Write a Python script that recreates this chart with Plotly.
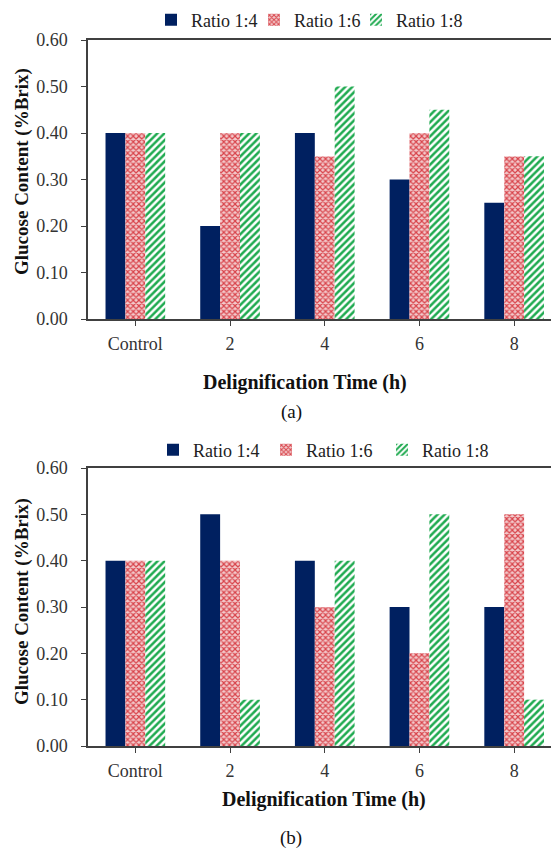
import plotly.graph_objects as go

# page is 559x861; the default 8px body margin surrounds the figure
PAGE_W, PAGE_H = 559, 861
OFF = 8
W, H = PAGE_W - 2 * OFF, PAGE_H - 2 * OFF

categories = ["Control", "2", "4", "6", "8"]
series_names = ["Ratio 1:4", "Ratio 1:6", "Ratio 1:8"]

# (a)
a_ratio_1_4 = [0.40, 0.20, 0.40, 0.30, 0.25]
a_ratio_1_6 = [0.40, 0.40, 0.35, 0.40, 0.35]
a_ratio_1_8 = [0.40, 0.40, 0.50, 0.45, 0.35]

# (b)
b_ratio_1_4 = [0.40, 0.50, 0.40, 0.30, 0.30]
b_ratio_1_6 = [0.40, 0.40, 0.30, 0.20, 0.50]
b_ratio_1_8 = [0.40, 0.10, 0.40, 0.50, 0.10]

y_ticks = [0.0, 0.1, 0.2, 0.3, 0.4, 0.5, 0.6]

SERIF = "Liberation Serif"
AX = "#404040"

def px_y(py):
    return 1 - (py - OFF) / H

def px_x(px):
    return (px - OFF) / W

styles = [
    dict(color="#002060", pattern=dict(shape="")),
    dict(color="white", pattern=dict(shape="x", fgcolor="#d8434a", bgcolor="#f3c9cb", size=4, solidity=0.5, fillmode="replace")),
    dict(color="white", pattern=dict(shape="/", fgcolor="#1faa50", bgcolor="white", size=5, solidity=0.5, fillmode="replace")),
]

# legend anchor positions (page px): left edge of each legend entry, and vertical centre
leg_x_top = [151, 254, 356]
leg_x_bot = [153, 266, 382]
leg_y_top = 20
leg_y_bot = 450

fig = go.Figure()

sets = [
    ("x", "y", [a_ratio_1_4, a_ratio_1_6, a_ratio_1_8], 1),
    ("x2", "y2", [b_ratio_1_4, b_ratio_1_6, b_ratio_1_8], 4),
]
for xa, ya, vals, lstart in sets:
    for i, (name, v, st) in enumerate(zip(series_names, vals, styles)):
        k = lstart + i
        lg = "legend" if k == 1 else f"legend{k}"
        fig.add_trace(go.Bar(
            x=categories, y=v, name=name, xaxis=xa, yaxis=ya, legend=lg,
            marker=dict(color=st["color"], pattern=st["pattern"], line=dict(width=0)),
        ))

AXIS_X = 88
SPACING = 94.7
x_dom = [px_x(AXIS_X), 1.0]
xrange = [-0.5, -0.5 + (PAGE_W - OFF - AXIS_X) / SPACING]

common_x = dict(
    type="category", range=xrange, showline=True, linecolor=AX, linewidth=1.5,
    mirror=True, ticks="outside", ticklen=5, tickcolor=AX, showgrid=False,
    ticklabelstandoff=3,
    tickfont=dict(family=SERIF, size=18, color="#333333"), domain=x_dom,
)
common_y = dict(
    range=[0, 0.6], tickvals=y_ticks, tickformat=".2f", showline=True, linecolor=AX,
    linewidth=1.5, ticks="outside", ticklen=5, tickcolor=AX, showgrid=False,
    ticklabelstandoff=10,
    zeroline=False, tickfont=dict(family=SERIF, size=18, color="#333333"),
)

legends = {}
for i, lx in enumerate(leg_x_top + leg_x_bot):
    k = i + 1
    key = "legend" if k == 1 else f"legend{k}"
    ly = leg_y_top if i < 3 else leg_y_bot
    legends[key] = dict(
        orientation="h", x=px_x(lx), xanchor="left", y=px_y(ly), yanchor="middle",
        font=dict(family=SERIF, size=18, color="#222222"), itemwidth=30,
        bgcolor="rgba(0,0,0,0)",
    )

fig.update_layout(
    width=W, height=H, margin=dict(l=0, r=0, t=0, b=0, autoexpand=False),
    paper_bgcolor="white", plot_bgcolor="white",
    barmode="group", bargap=0.37, bargroupgap=0,
    xaxis=dict(**common_x, anchor="y"),
    yaxis=dict(**common_y, domain=[px_y(319), px_y(40)], anchor="x"),
    xaxis2=dict(**common_x, anchor="y2"),
    yaxis2=dict(**common_y, domain=[px_y(746), px_y(468)], anchor="x2"),
    showlegend=True,
    **legends,
)

ann = []
ttl = dict(family=SERIF, size=20, color="#111111")
ann.append(dict(text="<b>Delignification Time (h)</b>", x=px_x(305), y=px_y(382), xref="paper", yref="paper",
                showarrow=False, font=ttl, xanchor="center", yanchor="middle"))
ann.append(dict(text="<b>Delignification Time (h)</b>", x=px_x(324), y=px_y(799), xref="paper", yref="paper",
                showarrow=False, font=ttl, xanchor="center", yanchor="middle"))
ann.append(dict(text="<b>Glucose Content (%Brix)</b>", x=px_x(22), y=px_y(172), xref="paper", yref="paper",
                showarrow=False, font=dict(family=SERIF, size=19, color="#111111"), textangle=-90,
                xanchor="center", yanchor="middle"))
ann.append(dict(text="<b>Glucose Content (%Brix)</b>", x=px_x(22), y=px_y(602), xref="paper", yref="paper",
                showarrow=False, font=dict(family=SERIF, size=19, color="#111111"), textangle=-90,
                xanchor="center", yanchor="middle"))
ann.append(dict(text="(a)", x=px_x(291), y=px_y(412), xref="paper", yref="paper",
                showarrow=False, font=dict(family=SERIF, size=19, color="#111111"), xanchor="center", yanchor="middle"))
ann.append(dict(text="(b)", x=px_x(291), y=px_y(851), xref="paper", yref="paper",
                showarrow=False, font=dict(family=SERIF, size=19, color="#111111"), xanchor="center", yanchor="bottom"))
fig.update_layout(annotations=ann)

fig.write_html("out.html", config={"displayModeBar": False})
